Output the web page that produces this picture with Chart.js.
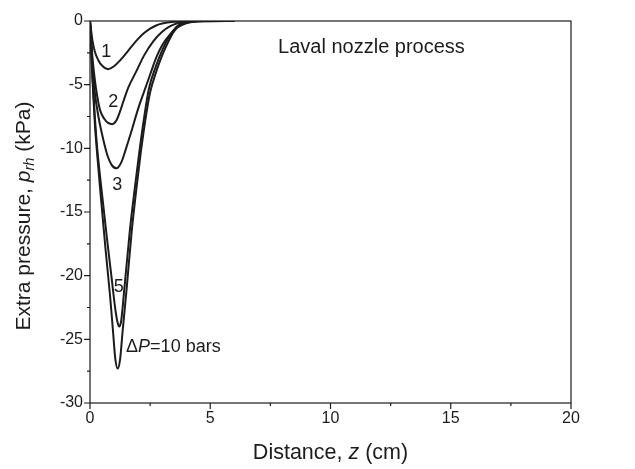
<!DOCTYPE html>
<html>
<head>
<meta charset="utf-8">
<script src="https://cdn.jsdelivr.net/npm/chart.js@4.4.1/dist/chart.umd.min.js"></script>
<style>
  body { margin: 0; background: #fff; }
  #wrap { width: 635px; height: 469px; }
</style>
</head>
<body>
<div id="wrap"><canvas id="chart" width="635" height="469"></canvas></div>
<script>
// Datos (z en cm, presion en kPa)
const z1 = [0, 0.1, 0.2, 0.35, 0.5, 0.76, 1.0, 1.25, 1.5, 1.75, 2.0, 2.25, 2.5, 2.75, 3.0, 3.5, 4.0, 4.5, 6];
const p1 = [0, -1.5, -2.4, -3.1, -3.5, -3.78, -3.55, -3.1, -2.55, -1.95, -1.4, -0.95, -0.6, -0.35, -0.2, -0.06, -0.01, 0, 0];

const z2 = [0, 0.1, 0.2, 0.3, 0.42, 0.6, 0.75, 0.93, 1.1, 1.25, 1.39, 1.6, 1.94, 2.25, 2.63, 3.0, 3.3, 3.6, 4.0, 4.5, 6];
const p2 = [0, -2.8, -4.6, -5.9, -7.0, -7.7, -8.0, -8.1, -7.8, -7.1, -6.3, -5.2, -3.9, -2.7, -1.6, -0.85, -0.45, -0.2, -0.05, 0, 0];

const z3 = [0, 0.1, 0.2, 0.35, 0.49, 0.7, 0.9, 1.1, 1.3, 1.5, 1.7, 2.0, 2.22, 2.5, 2.77, 3.0, 3.33, 3.6, 4.0, 4.5, 6];
const p3 = [0, -3.4, -5.6, -7.5, -8.8, -10.4, -11.3, -11.57, -11.1, -10.0, -8.8, -6.9, -5.7, -4.2, -2.8, -1.9, -1.05, -0.55, -0.18, -0.03, 0];

const z5 = [0, 0.1, 0.2, 0.3, 0.5, 0.7, 0.9, 1.05, 1.15, 1.22, 1.3, 1.4, 1.66, 1.87, 2.05, 2.25, 2.45, 2.75, 3.0, 3.25, 3.5, 3.75, 4.0, 4.5, 6];
const p5 = [0, -4.2, -7.5, -10.0, -13.6, -17.0, -20.2, -22.6, -23.7, -24.0, -23.5, -21.6, -16.4, -13.0, -10.3, -7.6, -5.3, -3.5, -2.3, -1.35, -0.65, -0.25, -0.08, 0, 0];

const z10 = [0, 0.1, 0.2, 0.3, 0.45, 0.65, 0.83, 0.95, 1.05, 1.15, 1.25, 1.35, 1.52, 1.73, 1.94, 2.1, 2.3, 2.5, 2.75, 3.0, 3.25, 3.5, 3.75, 4.0, 4.5, 6];
const p10 = [0, -4.5, -8.0, -10.5, -13.8, -18.0, -21.5, -24.2, -26.5, -27.3, -26.6, -24.5, -21.1, -16.6, -13.0, -10.5, -7.8, -5.6, -4.0, -2.7, -1.65, -0.8, -0.3, -0.1, -0.01, 0];

const curveZ = [z1, z2, z3, z5, z10];
const curveP = [p1, p2, p3, p5, p10];

const xTicks = [0, 5, 10, 15, 20];
const yTicks = [0, -5, -10, -15, -20, -25, -30];
const xMinor = [2.5, 7.5, 12.5, 17.5];
const yMinor = [-2.5, -7.5, -12.5, -17.5, -22.5, -27.5];

// etiquetas de curvas: [texto, z, p]
const curveTags = [
  ['1', 0.68, -2.4],
  ['2', 0.97, -6.4],
  ['3', 1.13, -12.9],
  ['5', 1.2, -20.9],
];

const FONT = '"Liberation Sans", Arial, sans-serif';
const INK = '#1c1c1c';

const datasets = curveZ.map((zs, i) => ({
  data: zs.map((z, j) => ({ x: z, y: curveP[i][j] })),
  showLine: true,
  borderColor: INK,
  borderWidth: 2,
  pointRadius: 0,
  cubicInterpolationMode: 'monotone',
  fill: false
}));

// dibuja texto con partes en cursiva / subindice
function richWidth(ctx, parts, size) {
  let w = 0;
  parts.forEach(p => {
    const s = p.sub ? size * 0.7 : size;
    ctx.font = (p.it ? 'italic ' : '') + s + 'px ' + FONT;
    w += ctx.measureText(p.t).width;
  });
  return w;
}
function drawRich(ctx, parts, x, y, size) {
  let cx = x;
  parts.forEach(p => {
    const s = p.sub ? size * 0.7 : size;
    ctx.font = (p.it ? 'italic ' : '') + s + 'px ' + FONT;
    ctx.fillText(p.t, cx, p.sub ? y + size * 0.3 : y);
    cx += ctx.measureText(p.t).width;
  });
}

const decor = {
  id: 'decor',
  afterDraw(chart) {
    const ctx = chart.ctx;
    const a = chart.chartArea;
    const xs = chart.scales.x, ys = chart.scales.y;
    ctx.save();
    ctx.strokeStyle = INK;
    ctx.fillStyle = INK;
    ctx.lineWidth = 1.2;
    ctx.strokeRect(a.left, a.top, a.right - a.left, a.bottom - a.top);

    // marcas de ejes
    ctx.beginPath();
    xTicks.forEach(v => { const px = xs.getPixelForValue(v); ctx.moveTo(px, a.bottom); ctx.lineTo(px, a.bottom + 6); });
    xMinor.forEach(v => { const px = xs.getPixelForValue(v); ctx.moveTo(px, a.bottom); ctx.lineTo(px, a.bottom + 3); });
    yTicks.forEach(v => { const py = ys.getPixelForValue(v); ctx.moveTo(a.left, py); ctx.lineTo(a.left - 6, py); });
    yMinor.forEach(v => { const py = ys.getPixelForValue(v); ctx.moveTo(a.left, py); ctx.lineTo(a.left - 3, py); });
    ctx.stroke();

    ctx.font = '16px ' + FONT;
    ctx.textBaseline = 'middle';
    ctx.textAlign = 'center';
    xTicks.forEach(v => ctx.fillText(String(v), xs.getPixelForValue(v), a.bottom + 16));
    ctx.textAlign = 'right';
    yTicks.forEach(v => ctx.fillText(String(v), a.left - 7, ys.getPixelForValue(v)));

    // etiquetas de curvas
    ctx.font = '18px ' + FONT;
    ctx.textAlign = 'center';
    curveTags.forEach(t => ctx.fillText(t[0], xs.getPixelForValue(t[1]), ys.getPixelForValue(t[2])));
    ctx.textAlign = 'left';
    drawRich(ctx, [{ t: '\u0394' }, { t: 'P', it: true }, { t: '=10 bars' }],
      xs.getPixelForValue(1.5), ys.getPixelForValue(-25.6), 18);

    ctx.font = '20px ' + FONT;
    ctx.fillText('Laval nozzle process', xs.getPixelForValue(7.82), ys.getPixelForValue(-2.05));

    // titulos de ejes
    const xt = [{ t: 'Distance, ' }, { t: 'z', it: true }, { t: ' (cm)' }];
    const wx = richWidth(ctx, xt, 21.5);
    drawRich(ctx, xt, (a.left + a.right) / 2 - wx / 2, 453, 21.5);

    const yt = [{ t: 'Extra pressure, ' }, { t: 'p', it: true }, { t: 'rh', it: true, sub: true }, { t: ' (kPa)' }];
    const wy = richWidth(ctx, yt, 21);
    ctx.translate(24, (a.top + a.bottom) / 2 + 4);
    ctx.rotate(-Math.PI / 2);
    drawRich(ctx, yt, -wy / 2, 0, 21);
    ctx.restore();
  }
};

new Chart(document.getElementById('chart'), {
  type: 'scatter',
  data: { datasets },
  options: {
    responsive: false,
    animation: false,
    layout: { padding: { left: 0, top: 21, right: 64, bottom: 0 } },
    plugins: { legend: { display: false }, tooltip: { enabled: false } },
    scales: {
      x: {
        type: 'linear', min: 0, max: 20,
        grid: { display: false }, border: { display: false },
        ticks: { display: false },
        afterFit: s => { s.height = 66; }
      },
      y: {
        type: 'linear', min: -30, max: 0,
        grid: { display: false }, border: { display: false },
        ticks: { display: false },
        afterFit: s => { s.width = 90; }
      }
    }
  },
  plugins: [decor]
});
</script>
</body>
</html>
